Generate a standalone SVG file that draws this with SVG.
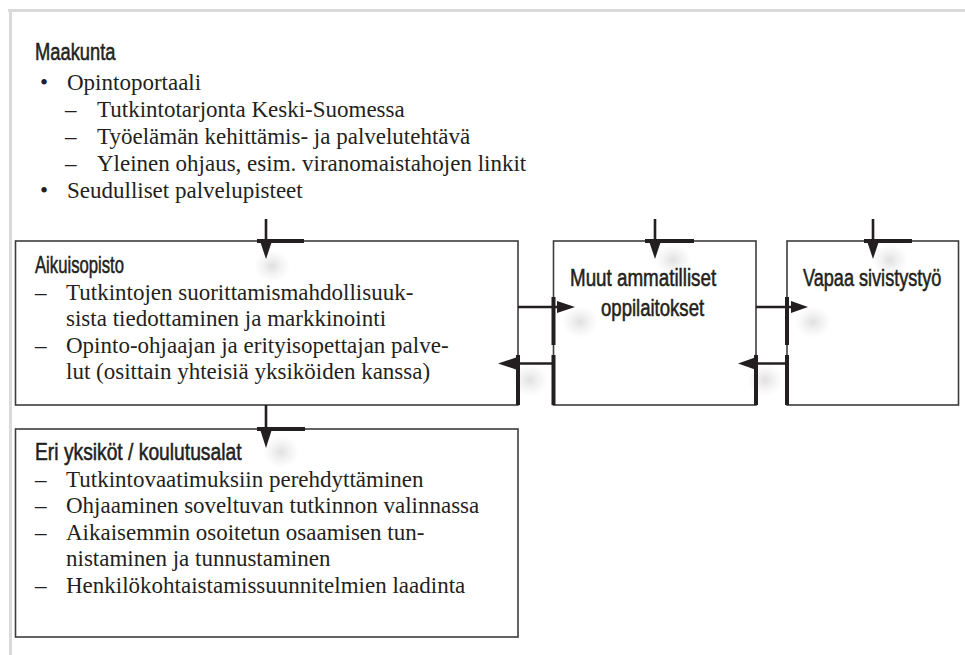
<svg xmlns="http://www.w3.org/2000/svg" width="965" height="655" viewBox="0 0 965 655">
  <defs>
    <style>
      .frame { stroke: #dadada; stroke-width: 3; fill: none; }
      .box { fill: #ffffff; stroke: #3c3c3c; stroke-width: 1.6; }
      .head { font-family: "Liberation Sans", Arial, sans-serif; font-size: 23.5px; fill: #231f20; stroke: #231f20; stroke-width: 0.55; }
      .body { font-family: "Liberation Serif", "Times New Roman", serif; font-size: 23px; fill: #231f20; }
      .line { stroke: #231f20; stroke-width: 2.6; fill: none; }
      .bar { stroke: #231f20; stroke-width: 4; fill: none; }
      .tip { fill: #231f20; }
      .haze { fill: url(#hazeFill); }
    </style>
    <radialGradient id="hazeFill">
      <stop offset="0" stop-color="#000000" stop-opacity="0.12"/>
      <stop offset="0.5" stop-color="#000000" stop-opacity="0.05"/>
      <stop offset="1" stop-color="#000000" stop-opacity="0"/>
    </radialGradient>
  </defs>

  <rect width="965" height="655" fill="#ffffff"/>

  <!-- page frame -->
  <g id="frame">
    <line class="frame" x1="8" y1="10.5" x2="965" y2="10.5"/>
    <line class="frame" x1="10.5" y1="9" x2="10.5" y2="655"/>
  </g>

  <!-- region level -->
  <g id="maakunta">
    <text class="head" transform="translate(35,60) scale(0.78,1)">Maakunta</text>
    <text class="body" x="40" y="90">•</text>
    <text class="body" x="67" y="90">Opintoportaali</text>
    <text class="body" x="65" y="117">–</text>
    <text class="body" x="97" y="117">Tutkintotarjonta Keski-Suomessa</text>
    <text class="body" x="65" y="144">–</text>
    <text class="body" x="97" y="144">Työelämän kehittämis- ja palvelutehtävä</text>
    <text class="body" x="65" y="171">–</text>
    <text class="body" x="97" y="171">Yleinen ohjaus, esim. viranomaistahojen linkit</text>
    <text class="body" x="40" y="198">•</text>
    <text class="body" x="67" y="198">Seudulliset palvelupisteet</text>
  </g>

  <g id="aikuisopisto">
    <rect class="box" x="15.5" y="241" width="502.5" height="164"/>
    <text class="head" transform="translate(35,273) scale(0.71,1)">Aikuisopisto</text>
    <text class="body" x="35" y="300">–</text>
    <text class="body" x="66" y="300">Tutkintojen suorittamismahdollisuuk-</text>
    <text class="body" x="66" y="326">sista tiedottaminen ja markkinointi</text>
    <text class="body" x="35" y="353">–</text>
    <text class="body" x="66" y="353">Opinto-ohjaajan ja erityisopettajan palve-</text>
    <text class="body" x="66" y="379">lut (osittain yhteisiä yksiköiden kanssa)</text>
  </g>

  <g id="muut">
    <rect class="box" x="553.5" y="241" width="202.5" height="164"/>
    <text class="head" transform="translate(570,286) scale(0.80,1)">Muut ammatilliset</text>
    <text class="head" transform="translate(601,316) scale(0.79,1)">oppilaitokset</text>
  </g>

  <g id="vapaa">
    <rect class="box" x="787" y="241" width="171.5" height="164"/>
    <text class="head" transform="translate(803,286) scale(0.77,1)">Vapaa sivistystyö</text>
  </g>

  <g id="yksikot">
    <rect class="box" x="15.5" y="429" width="502.5" height="208"/>
    <text class="head" transform="translate(35,460) scale(0.82,1)">Eri yksiköt / koulutusalat</text>
    <text class="body" x="35" y="487">–</text>
    <text class="body" x="66" y="487">Tutkintovaatimuksiin perehdyttäminen</text>
    <text class="body" x="35" y="513">–</text>
    <text class="body" x="66" y="513">Ohjaaminen soveltuvan tutkinnon valinnassa</text>
    <text class="body" x="35" y="540">–</text>
    <text class="body" x="66" y="540">Aikaisemmin osoitetun osaamisen tun-</text>
    <text class="body" x="66" y="566">nistaminen ja tunnustaminen</text>
    <text class="body" x="35" y="593">–</text>
    <text class="body" x="66" y="593">Henkilökohtaistamissuunnitelmien laadinta</text>
  </g>

  <!-- connectors: stem, landing bar and head -->
  <g id="connectors">
    <!-- soft shading under the heads -->
    <ellipse class="haze" cx="272" cy="266" rx="18" ry="16"/>
    <ellipse class="haze" cx="673" cy="260" rx="18" ry="16"/>
    <ellipse class="haze" cx="890" cy="260" rx="18" ry="16"/>
    <ellipse class="haze" cx="580" cy="322" rx="18" ry="16"/>
    <ellipse class="haze" cx="813" cy="322" rx="18" ry="16"/>
    <ellipse class="haze" cx="530" cy="380" rx="18" ry="16"/>
    <ellipse class="haze" cx="765" cy="380" rx="18" ry="16"/>
    <ellipse class="haze" cx="281" cy="452" rx="18" ry="16"/>

    <!-- down into Aikuisopisto -->
    <line class="line" x1="266" y1="219" x2="266" y2="242"/>
    <line class="bar" x1="257" y1="241" x2="304" y2="241"/>
    <polygon class="tip" points="260,241 272,241 266,259"/>

    <!-- down into Muut ammatilliset oppilaitokset -->
    <line class="line" x1="655" y1="219" x2="655" y2="242"/>
    <line class="bar" x1="645" y1="241" x2="694" y2="241"/>
    <polygon class="tip" points="649,241 661,241 655,259"/>

    <!-- down into Vapaa sivistystyö -->
    <line class="line" x1="873" y1="219" x2="873" y2="242"/>
    <line class="bar" x1="864" y1="241" x2="912" y2="241"/>
    <polygon class="tip" points="867,241 879,241 873,259"/>

    <!-- Aikuisopisto down to Eri yksiköt -->
    <line class="line" x1="266" y1="405" x2="266" y2="430"/>
    <line class="bar" x1="257" y1="429" x2="305" y2="429"/>
    <polygon class="tip" points="260,429 272,429 266,448"/>

    <!-- Aikuisopisto to Muut -->
    <line class="line" x1="518" y1="307" x2="558" y2="307"/>
    <line class="bar" x1="553.5" y1="297" x2="553.5" y2="345"/>
    <polygon class="tip" points="557,301 557,313 575,307"/>

    <!-- Muut back to Aikuisopisto -->
    <line class="line" x1="553" y1="363.5" x2="514" y2="363.5"/>
    <line class="bar" x1="518" y1="355" x2="518" y2="405"/>
    <line class="bar" x1="553.5" y1="355" x2="553.5" y2="405"/>
    <polygon class="tip" points="516,357.5 516,369.5 498,363.5"/>

    <!-- Muut to Vapaa -->
    <line class="line" x1="756" y1="307" x2="793" y2="307"/>
    <line class="bar" x1="787" y1="297" x2="787" y2="345"/>
    <polygon class="tip" points="791,301 791,313 808,307"/>

    <!-- Vapaa back to Muut -->
    <line class="line" x1="787" y1="363.5" x2="753" y2="363.5"/>
    <line class="bar" x1="756" y1="355" x2="756" y2="405"/>
    <line class="bar" x1="787" y1="355" x2="787" y2="405"/>
    <polygon class="tip" points="755,357.5 755,369.5 738,363.5"/>
  </g>
</svg>
